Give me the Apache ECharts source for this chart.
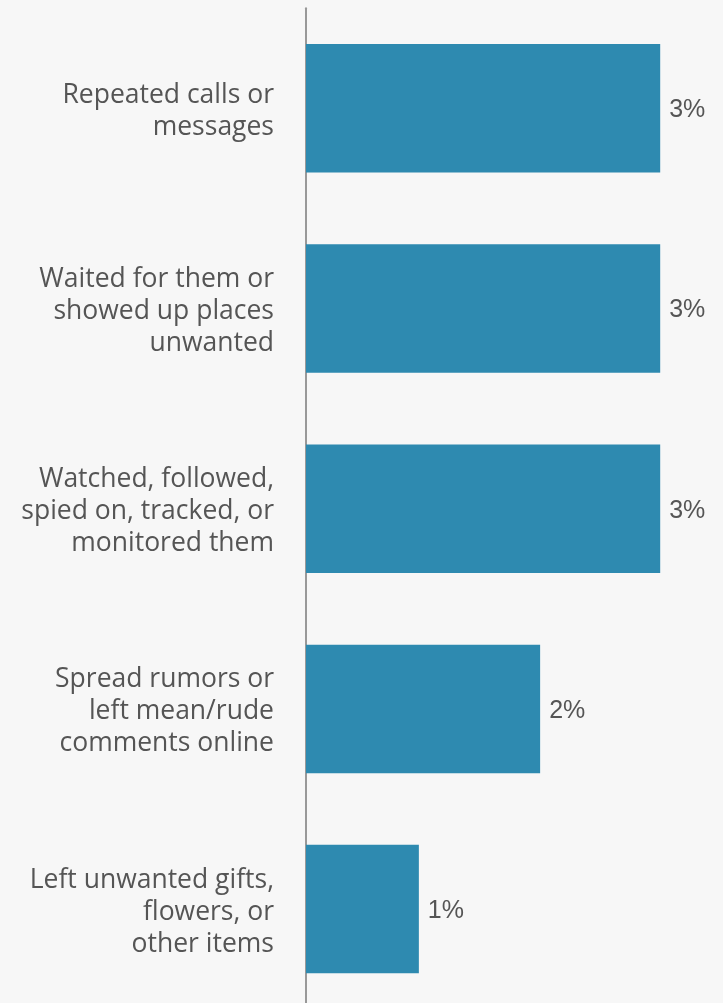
<!DOCTYPE html>
<html>
<head>
<meta charset="utf-8">
<script src="https://cdn.jsdelivr.net/npm/echarts@6/dist/echarts.min.js"></script>
<style>
html,body{margin:0;padding:0;background:#f7f7f7;overflow:hidden;}
#c{width:723px;height:1012px;}
</style>
</head>
<body>
<div id="c"></div>
<script>
const categories = [
  "Repeated calls or\nmessages",
  "Waited for them or\nshowed up places\nunwanted",
  "Watched, followed,\nspied on, tracked, or\nmonitored them",
  "Spread rumors or\nleft mean/rude\ncomments online",
  "Left unwanted gifts,\nflowers, or\nother items"
];
const values = [2.95, 2.95, 2.95, 1.95, 0.94];
const valueLabels = ["3%", "3%", "3%", "2%", "1%"];

const chart = echarts.init(document.getElementById('c'), null, {renderer:'canvas'});
chart.setOption({
  backgroundColor: '#f7f7f7',
  animation: false,
  grid: {left: 306, top: 8.2, width: 360.2, height: 1001, containLabel: false},
  xAxis: {
    type: 'value', min: 0, max: 3, show: false
  },
  yAxis: {
    type: 'category', data: categories, inverse: true,
    axisLine: {show: true, lineStyle: {color: '#999999', width: 2}},
    axisTick: {show: false},
    axisLabel: {
      margin: 32, color: '#555555', fontSize: 26.5, lineHeight: 32,
      fontFamily: 'Open Sans', align: 'right',
      formatter: v => '{s|}\n' + v,
      rich: {s: {lineHeight: 6, fontSize: 1}}
    }
  },
  series: [{
    type: 'bar', data: values, barCategoryGap: '35.8%',
    itemStyle: {color: '#2e8ab0'},
    label: {
      show: true, position: 'right', distance: 9, offset: [0, 2],
      color: '#555555', fontSize: 25, fontFamily: 'Liberation Sans',
      formatter: p => valueLabels[p.dataIndex]
    }
  }]
});
</script>
</body>
</html>
